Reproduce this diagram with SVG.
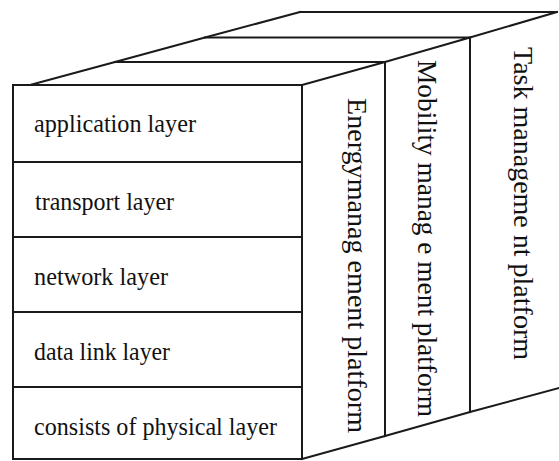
<svg xmlns="http://www.w3.org/2000/svg" width="559" height="461" viewBox="0 0 559 461">
<style>
.ln{stroke:#1a1a1a;stroke-width:2;fill:none;stroke-linecap:square}
.box{stroke:#1a1a1a;stroke-width:2;fill:#fff}
.t{font-size:24.5px;fill:#111}
.v{font-size:28px;fill:#111}
</style>
<rect width="559" height="461" fill="#fff"/>
<g id="platform-task">
<path class="ln" d="M300,12 L557,12 M205,37.5 L300,12 M470,37.5 L557,12 M470,37.5 L470,412 M470,412 L559,388"/>
<text class="v" font-family="Liberation Serif, Tinos, DejaVu Serif, serif" transform="translate(514,47) rotate(90)" textLength="313" lengthAdjust="spacingAndGlyphs">Task manageme nt platform</text>
</g>
<g id="platform-mobility">
<path class="ln" d="M205,37.5 L470,37.5 M115,62 L205,37.5 M385,62 L470,37.5 M385,62 L385,436 M385,436 L470,412"/>
<text class="v" font-family="Liberation Serif, Tinos, DejaVu Serif, serif" transform="translate(418,60) rotate(90)" textLength="357" lengthAdjust="spacingAndGlyphs">Mobility manag e ment platform</text>
</g>
<g id="platform-energy">
<path class="ln" d="M115,62 L385,62 M30,85 L115,62 M302,85 L385,62 M302,459 L385,436"/>
<text class="v" font-family="Liberation Serif, Tinos, DejaVu Serif, serif" transform="translate(348,98) rotate(90)" textLength="335" lengthAdjust="spacingAndGlyphs">Energymanag ement platform</text>
</g>
<g id="layer-application">
<rect class="box" x="13" y="85" width="289" height="77"/>
<text class="t" font-family="Liberation Serif, Tinos, DejaVu Serif, serif" x="34" y="132" textLength="162" lengthAdjust="spacingAndGlyphs">application layer</text>
</g>
<g id="layer-transport">
<rect class="box" x="13" y="162" width="289" height="75"/>
<text class="t" font-family="Liberation Serif, Tinos, DejaVu Serif, serif" x="35" y="210" textLength="139" lengthAdjust="spacingAndGlyphs">transport layer</text>
</g>
<g id="layer-network">
<rect class="box" x="13" y="237" width="289" height="75"/>
<text class="t" font-family="Liberation Serif, Tinos, DejaVu Serif, serif" x="34" y="285" textLength="134" lengthAdjust="spacingAndGlyphs">network layer</text>
</g>
<g id="layer-datalink">
<rect class="box" x="13" y="312" width="289" height="75"/>
<text class="t" font-family="Liberation Serif, Tinos, DejaVu Serif, serif" x="34" y="360" textLength="136" lengthAdjust="spacingAndGlyphs">data link layer</text>
</g>
<g id="layer-physical">
<rect class="box" x="13" y="387" width="289" height="72"/>
<text class="t" font-family="Liberation Serif, Tinos, DejaVu Serif, serif" x="34" y="435" textLength="243" lengthAdjust="spacingAndGlyphs">consists of physical layer</text>
</g>
<g id="connectors"></g>
</svg>
